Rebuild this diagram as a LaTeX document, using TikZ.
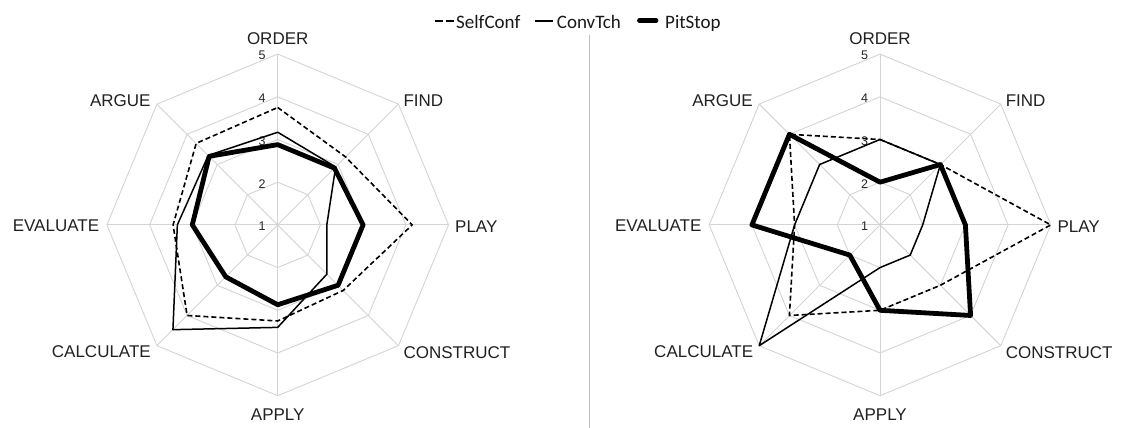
\documentclass[tikz,border=0pt]{standalone}
\usepackage{fontspec}
\setmainfont{Liberation Sans}
\newfontfamily\legfont{Carlito}
\newcommand\radarchart[5]{%
  \begin{scope}[shift={(#2,203.1)}]
    % grid
    \foreach \r in {2,3,4,5}
      \draw[grid] (90:{(\r-1)*42.7}) \foreach \k in {1,...,7}{ -- ({90-45*\k}:{(\r-1)*42.7}) } -- cycle;
    \coordinate (#1c) at (0,0);
    \foreach \k in {0,...,7} \coordinate (#1sp\k) at ({90-45*\k}:170.8);
    \foreach \k in {0,...,7} \draw[grid] (#1c) -- (#1sp\k);
    % axis labels
    \node[axlab, anchor=base]      (#1order) at (0,179.9)      {ORDER};
    \node[axlab, anchor=base west] (#1find)  at (125.6,118.2)  {FIND};
    \node[axlab, anchor=base west] (#1play)  at (177.3,-7.4)   {PLAY};
    \node[axlab, anchor=base west] (#1cons)  at (125.6,-133.4) {CONSTRUCT};
    \node[axlab, anchor=base]      (#1apply) at (0,-195.8)     {APPLY};
    \node[axlab, anchor=base east] (#1calc)  at (-126.7,-132.4){CALCULATE};
    \node[axlab, anchor=base east] (#1eval)  at (-178.4,-6.8)  {EVALUATE};
    \node[axlab, anchor=base east] (#1argue) at (-127,118.2)   {ARGUE};
    % level labels
    \foreach \r in {1,...,5}
      \node[lvl] (#1lv\r) at (-15.5,{(\r-1)*42.7-1.5}) {\r};
    % data
    \foreach \v [count=\k from 0] in {#3} \coordinate (#1s\k) at ({90-45*\k}:{(\v-1)*42.7});
    \foreach \v [count=\k from 0] in {#4} \coordinate (#1t\k) at ({90-45*\k}:{(\v-1)*42.7});
    \foreach \v [count=\k from 0] in {#5} \coordinate (#1p\k) at ({90-45*\k}:{(\v-1)*42.7});
    \draw[selfconf] (#1s0) -- (#1s1) -- (#1s2) -- (#1s3) -- (#1s4) -- (#1s5) -- (#1s6) -- (#1s7) -- cycle;
    \draw[convtch]  (#1t0) -- (#1t1) -- (#1t2) -- (#1t3) -- (#1t4) -- (#1t5) -- (#1t6) -- (#1t7) -- cycle;
    \draw[pitstop]  (#1p0) -- (#1p1) -- (#1p2) -- (#1p3) -- (#1p4) -- (#1p5) -- (#1p6) -- (#1p7) -- cycle;
  \end{scope}}
\begin{document}
\begin{tikzpicture}[x=1pt,y=1pt,
  grid/.style={draw=black!17, line width=0.9pt},
  axlab/.style={font=\fontsize{17}{17}\selectfont, inner sep=0pt, text=black!87},
  lvl/.style={font=\fontsize{12.5}{12.5}\selectfont, inner sep=0pt, text=black!85},
  selfconf/.style={line width=1.6pt, dash pattern=on 5pt off 3pt, line join=round},
  convtch/.style={line width=1.5pt, line join=round},
  pitstop/.style={line width=4.8pt, line join=round},
  legtxt/.style={font=\legfont\fontsize{19}{19}\selectfont, inner sep=0pt, text=black!90, anchor=base west}]
  \useasboundingbox (0,0) rectangle (1121,428);
  \fill[white] (0,0) rectangle (1121,428);
  % separator
  \coordinate (septop) at (589,393);
  \coordinate (sepbot) at (589,0);
  \draw[black!25, line width=1pt] (septop) -- (sepbot);
  % charts
  \radarchart{L}{277.7}{3.75,3.25,4.15,3.17,3.25,4.0,3.45,3.7}{3.17,2.92,2.15,2.63,3.4,4.47,3.35,3.3}{2.88,2.88,3.0,3.0,2.87,2.72,3.0,3.27}
  \radarchart{R}{880}{3,3,5,3,3,4,3,4}{3,3,2,2,2,5,3,3}{2,3,3,4,3,2,4,4}
  % legend
  \node[legtxt] (lgs) at (456,399.7) {SelfConf};
  \node[legtxt] (lgc) at (556.7,399.7) {ConvTch};
  \node[legtxt] (lgp) at (665,399.7) {PitStop};
  \draw[line width=2pt, dash pattern=on 7.5pt off 3.5pt] (435,407.3) -- (453.5,407.3);
  \draw[line width=2pt] (535,407.3) -- (553.3,407.3);
  \draw[line width=4.8pt, line cap=round] (639.5,407.3) -- (656,407.3);
\end{tikzpicture}
\end{document}
